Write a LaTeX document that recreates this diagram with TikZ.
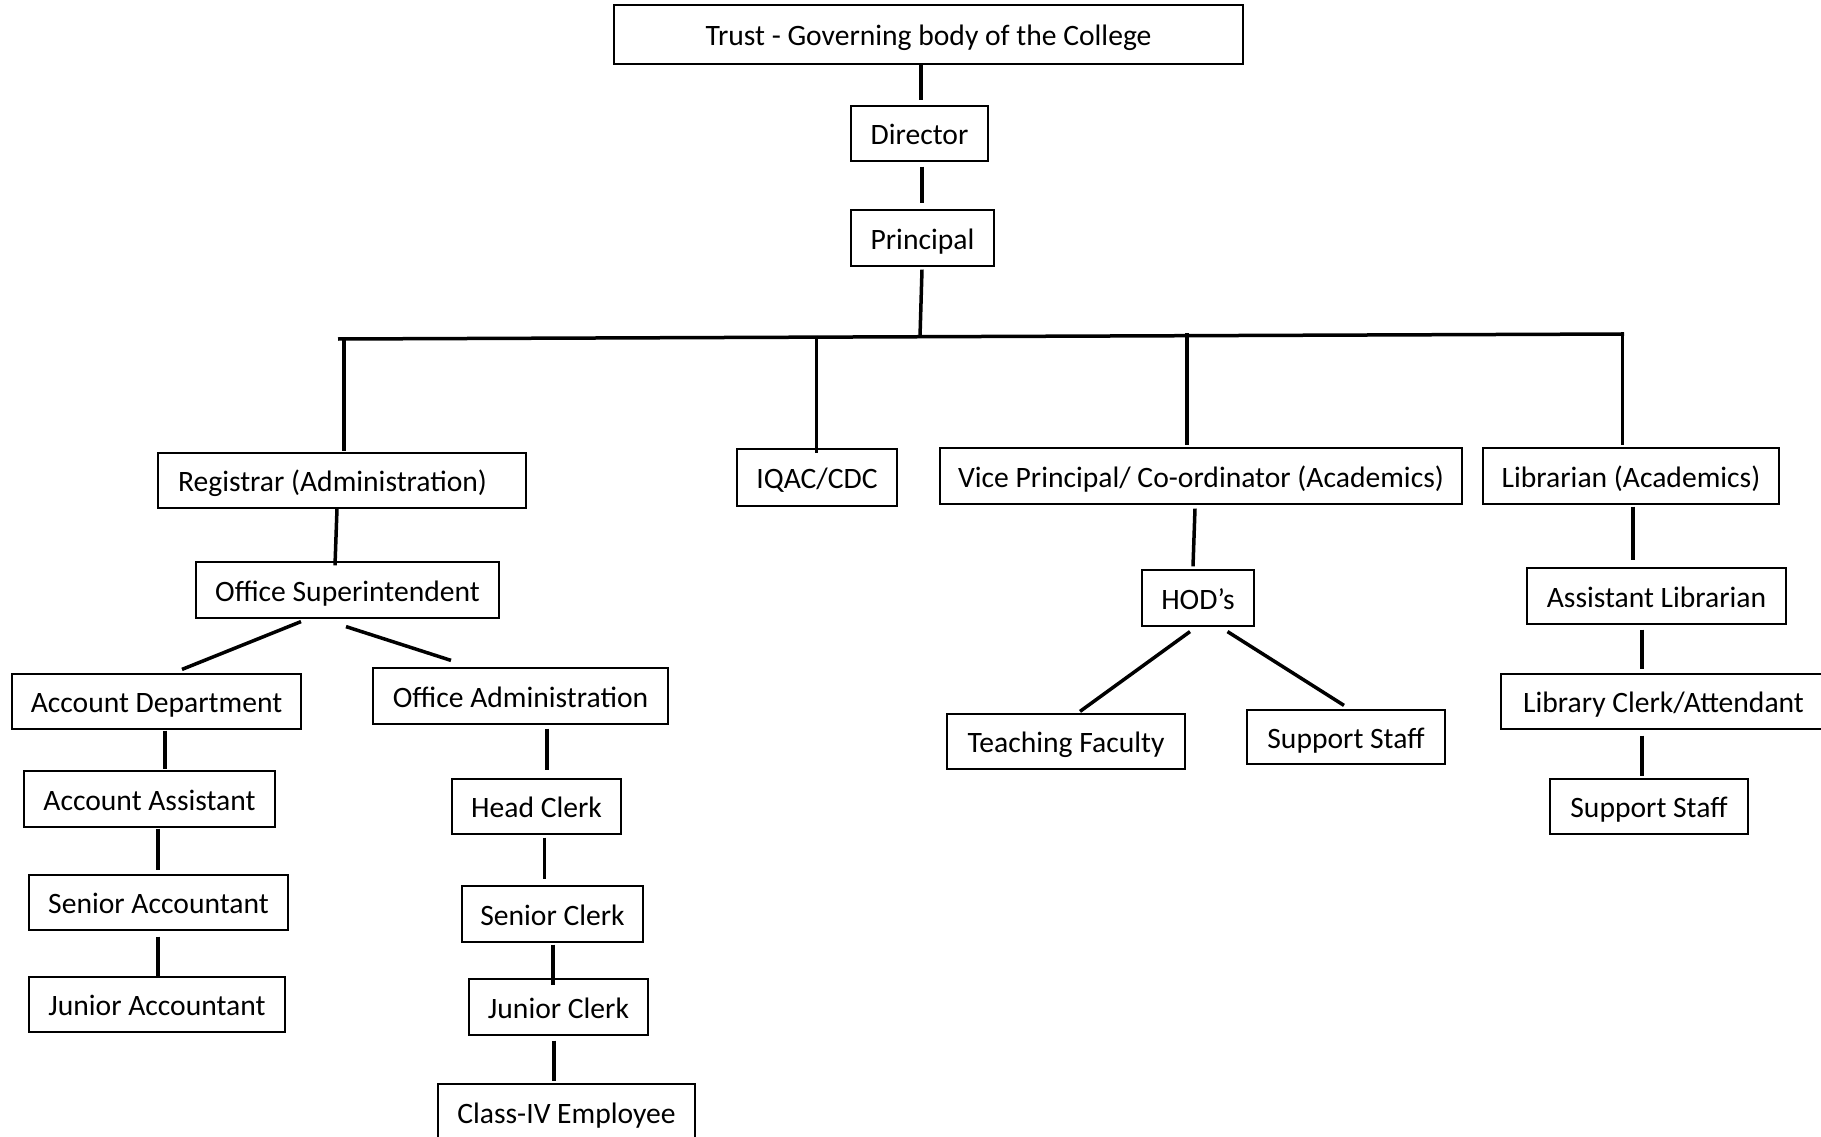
\documentclass[tikz,border=0pt]{standalone}
\usepackage{fontspec}
\setmainfont{Carlito}
\begin{document}
\begin{tikzpicture}[x=1pt,y=-1pt,
  box/.style={draw=black, line width=1.2pt, inner xsep=2pt, inner ysep=0pt,
    text height=28.3pt, text depth=6pt, font=\fontsize{29.6}{34}\selectfont, anchor=center},
  conn/.style={line width=3.5pt}]
\clip (0,0) rectangle (1821,1137);
\fill[white] (0,0) rectangle (1821,1137);
% nodes
\node[box, minimum width=629pt, minimum height=59pt] (trust) at (928.5,34.5) {Trust - Governing body of the College};
\node[box, minimum width=137pt, minimum height=55pt] (director) at (919.5,133.5) {Director};
\node[box, minimum width=143pt, minimum height=56pt] (principal) at (922.5,238) {Principal};
\node[box, minimum width=368pt, minimum height=55pt] (registrar) at (342,480.5) {Registrar (Administration)\hspace*{19pt}};
\node[box, minimum width=160pt, minimum height=57pt] (iqac) at (817,477.5) {IQAC/CDC};
\node[box, minimum width=522pt, minimum height=56pt] (vp) at (1201,476) {Vice Principal/ Co-ordinator (Academics)};
\node[box, minimum width=296pt, minimum height=56pt] (librarian) at (1631,476) {Librarian (Academics)};
\node[box, minimum width=303pt, minimum height=56pt] (osup) at (347.5,590) {Office Superintendent};
\node[box, minimum width=289pt, minimum height=55pt] (accdept) at (156.5,701.5) {Account Department};
\node[box, minimum width=295pt, minimum height=56pt] (oadm) at (520.5,696) {Office Administration};
\node[box, minimum width=251pt, minimum height=56pt] (accasst) at (149.5,799) {Account Assistant};
\node[box, minimum width=259pt, minimum height=55pt] (senacc) at (158.5,902.5) {Senior Accountant};
\node[box, minimum width=256pt, minimum height=55pt] (junacc) at (157,1004.5) {Junior Accountant};
\node[box, minimum width=169pt, minimum height=55pt] (headclerk) at (536.5,806.5) {Head Clerk};
\node[box, minimum width=181pt, minimum height=56pt] (senclerk) at (552.5,914) {Senior Clerk};
\node[box, minimum width=179pt, minimum height=56pt] (junclerk) at (558.5,1007) {Junior Clerk};
\node[box, minimum width=257pt, minimum height=56pt] (classiv) at (566.5,1112) {Class-IV Employee};
\node[box, minimum width=112pt, minimum height=56pt] (hod) at (1198,598) {HOD’s};
\node[box, minimum width=238pt, minimum height=55pt] (teach) at (1066,741.5) {Teaching Faculty};
\node[box, minimum width=198pt, minimum height=54pt] (suppa) at (1346,737) {Support Staff};
\node[box, minimum width=259pt, minimum height=56pt] (asstlib) at (1656.5,596) {Assistant Librarian};
\node[box, minimum width=325pt, minimum height=55pt] (libclerk) at (1663.5,701.5) {Library Clerk/Attendant};
\node[box, minimum width=198pt, minimum height=55pt] (suppb) at (1649,806.5) {Support Staff};
% bar
\coordinate (barL) at (338,339);
\coordinate (barR) at (1624,334);
\coordinate (jp) at (920,336.7);
\coordinate (j1) at (344,337);
\coordinate (j2) at (816.5,335.5);
\coordinate (j3) at (1187,333);
\coordinate (j4) at (1622.5,332);
\draw[conn] (barL) -- (barR);
% connectors
\draw[conn] ([shift={(-7.5,0)}]trust.south) -- ([shift={(1.5,-5)}]director.north);
\draw[conn] ([shift={(2.5,5)}]director.south) -- ([shift={(-0.5,-6)}]principal.north);
\draw[conn] ([shift={(-0.5,3)}]principal.south) -- (jp);
\draw[conn] (j1) -- ([shift={(2,-1)}]registrar.north);
\draw[conn] (j2) -- ([shift={(-0.5,5)}]iqac.north);
\draw[conn] (j3) -- ([shift={(-14,-2)}]vp.north);
\draw[conn] (j4) -- ([shift={(-8.5,-2)}]librarian.north);
\draw[conn] ([shift={(-5,0)}]registrar.south) -- ([shift={(-12.5,4)}]osup.north);
\draw[conn] ([shift={(-46.5,3)}]osup.south) -- ([shift={(25.5,-4)}]accdept.north);
\draw[conn] ([shift={(-1.5,8)}]osup.south) -- ([shift={(-69.5,-7)}]oadm.north);
\draw[conn] ([shift={(8.5,1)}]accdept.south) -- ([shift={(15.5,-1)}]accasst.north);
\draw[conn] ([shift={(8.5,1)}]accasst.south) -- ([shift={(-0.5,-4)}]senacc.north);
\draw[conn] ([shift={(-0.5,6)}]senacc.south) -- ([shift={(1,0)}]junacc.north);
\draw[conn] ([shift={(26.5,4)}]oadm.south) -- ([shift={(10.5,-8)}]headclerk.north);
\draw[conn] ([shift={(8,3)}]headclerk.south) -- ([shift={(-8,-6)}]senclerk.north);
\draw[conn] ([shift={(0.5,2)}]senclerk.south) -- ([shift={(-5.5,7)}]junclerk.north);
\draw[conn] ([shift={(-4.5,5)}]junclerk.south) -- ([shift={(-12.5,-2)}]classiv.north);
\draw[conn] ([shift={(-6,4)}]vp.south) -- ([shift={(-5,-3)}]hod.north);
\draw[conn] ([shift={(-8,5)}]hod.south) -- ([shift={(14,-2)}]teach.north);
\draw[conn] ([shift={(29.5,5)}]hod.south) -- ([shift={(-2,-4)}]suppa.north);
\draw[conn] ([shift={(2,2)}]librarian.south) -- ([shift={(-23.5,-7)}]asstlib.north);
\draw[conn] ([shift={(-14.5,5)}]asstlib.south) -- ([shift={(-21.5,-4)}]libclerk.north);
\draw[conn] ([shift={(-21.5,6)}]libclerk.south) -- ([shift={(-7,-2)}]suppb.north);
\end{tikzpicture}
\end{document}
